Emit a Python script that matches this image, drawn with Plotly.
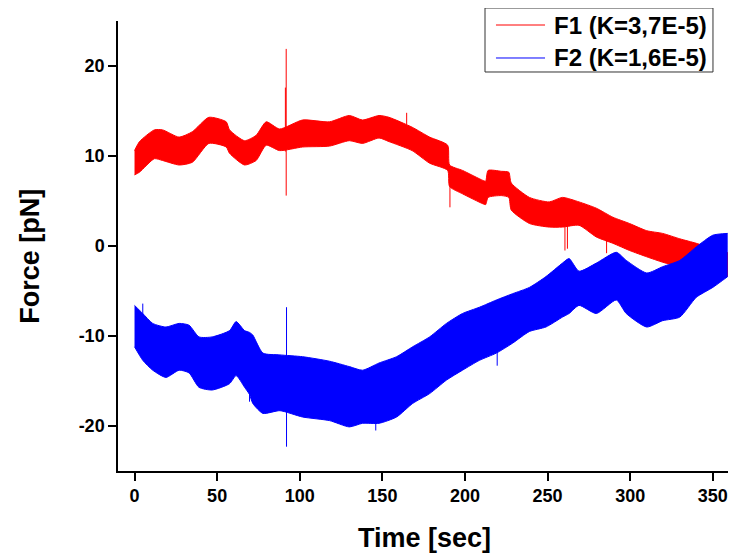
import plotly.graph_objects as go

# ---------------- data ----------------
# F1 (red) noisy band: envelope of the trace
f1_t = [0, 3, 12, 17, 27, 35, 45, 55.5, 57.5, 66.6, 73.6, 79.7, 87.8, 101.7, 118,
        130, 138, 148, 154, 168, 178.6, 189.5, 190.7, 198.5, 210.7, 212.5, 214, 222,
        226.5, 228, 239, 251, 259, 269, 279.5, 289.5, 299.6, 310, 319.6, 330, 340,
        350, 360]
f1_hi = [10.6, 11.6, 12.9, 12.9, 12.1, 12.7, 14.3, 13.8, 12.9, 11.7, 12.3, 13.8,
         13.0, 14.0, 13.8, 14.5, 14.0, 14.5, 14.3, 13.2, 12.1, 11.2, 9.0, 8.4, 7.3,
         7.2, 8.4, 8.3, 8.2, 7.0, 5.4, 4.9, 5.4, 4.9, 4.2, 3.2, 2.5, 1.7, 1.4, 0.8,
         0.3, -0.3, -0.8]
f1_lo = [7.9, 8.2, 9.7, 9.5, 9.0, 9.3, 11.4, 11.0, 10.3, 9.0, 9.5, 11.2, 10.6, 11.0,
         11.1, 11.7, 11.4, 12.0, 11.6, 10.6, 9.2, 8.4, 6.6, 5.8, 4.7, 4.6, 5.4, 5.6,
         5.4, 4.0, 2.5, 2.1, 2.1, 2.3, 1.0, 0.3, -0.5, -1.2, -1.8, -2.3, -2.5, -3.0,
         -3.4]

# F2 (blue) noisy band: envelope of the trace
f2_t = [0, 5, 11, 19, 27, 33, 39, 47, 57.5, 61.5, 66.6, 69.6, 71.6, 77.7, 88, 101.7,
        118, 130, 138, 148, 158.6, 168.3, 178.6, 188.8, 198.5, 208.8, 219, 228.8,
        239, 249, 259, 263, 269, 279.5, 291.6, 297.6, 310, 319.6, 330, 340, 350, 359]
f2_hi = [-6.6, -7.5, -8.6, -9.0, -8.6, -8.8, -10.1, -10.1, -9.4, -8.4, -9.4, -9.6,
         -9.9, -11.9, -12.1, -12.3, -12.8, -13.4, -13.8, -13.0, -12.3, -11.2, -10.1,
         -8.6, -7.5, -6.8, -6.0, -5.3, -4.6, -3.4, -1.9, -1.4, -2.8, -1.9, -0.7,
         -1.6, -3.0, -2.3, -1.6, -0.1, 1.2, 1.4]
f2_lo = [-11.2, -12.7, -13.8, -14.6, -13.8, -14.1, -15.7, -16.0, -15.3, -14.4,
         -15.7, -16.5, -17.5, -18.6, -18.3, -19.0, -19.4, -20.1, -19.7, -19.7, -19.0,
         -17.5, -16.4, -14.9, -13.8, -12.7, -11.9, -10.8, -9.5, -9.0, -7.9, -7.5,
         -6.6, -7.5, -6.0, -7.5, -9.0, -8.3, -7.9, -5.7, -4.6, -3.4]

# isolated spikes (time, low value, high value)
f1_spk_t = [91.3, 91.8, 164.7, 190.9, 260.5, 262.0, 285.7]
f1_spk_lo = [10.5, 5.6, 13.5, 4.3, -0.5, -0.3, -0.8]
f1_spk_hi = [17.6, 21.9, 14.8, 7.0, 2.5, 2.5, 1.5]

f2_spk_t = [5.0, 69.6, 92.0, 146.0, 219.5]
f2_spk_lo = [-11.0, -17.3, -22.3, -20.5, -13.3]
f2_spk_hi = [-6.4, -12.0, -6.8, -18.0, -11.0]

series_names = ["F1 (K=3,7E-5)", "F2 (K=1,6E-5)"]
x_ticks = [0, 50, 100, 150, 200, 250, 300, 350]
y_ticks = [-20, -10, 0, 10, 20]
y_tick_text = ["-20", "-10", "0", "10", "20"]

RED = "#ff0000"
BLUE = "#0000ff"
COLORS = [RED, BLUE]
FONT = "Liberation Sans, Arial, sans-serif"

fig = go.Figure()


def add_band(t, lo, hi, color, spk_t, spk_lo, spk_hi, name):
    edge = dict(color=color, width=1, shape="spline", smoothing=0.6)
    fig.add_trace(go.Scatter(x=t, y=lo, mode="lines", line=edge,
                             showlegend=False, hoverinfo="skip", name=name))
    fig.add_trace(go.Scatter(x=t, y=hi, mode="lines", line=edge,
                             fill="tonexty", fillcolor=color, showlegend=False,
                             hoverinfo="skip", name=name))
    xs, ys = [], []
    for st, sl, sh in zip(spk_t, spk_lo, spk_hi):
        xs += [st, st, None]
        ys += [sl, sh, None]
    fig.add_trace(go.Scatter(x=xs, y=ys, mode="lines", line=dict(color=color, width=1),
                             showlegend=False, hoverinfo="skip", name=name))


add_band(f1_t, f1_lo, f1_hi, RED, f1_spk_t, f1_spk_lo, f1_spk_hi, series_names[0])
add_band(f2_t, f2_lo, f2_hi, BLUE, f2_spk_t, f2_spk_lo, f2_spk_hi, series_names[1])

# ---- legend drawn in paper coordinates (box, line samples, labels) ----
shapes = [dict(type="rect", xref="paper", yref="paper",
               x0=0.5987, x1=0.9706, y0=0.8867, y1=1.0289,
               line=dict(color="#333333", width=1), fillcolor="white", layer="above")]
annotations = []
row_y = [0.9911, 0.9178]
for name, color, ry in zip(series_names, COLORS, row_y):
    shapes.append(dict(type="line", xref="paper", yref="paper",
                       x0=0.6166, x1=0.6966, y0=ry, y1=ry,
                       line=dict(color=color, width=1), layer="above"))
    annotations.append(dict(text=name, xref="paper", yref="paper", x=0.7080, y=ry,
                            xanchor="left", yanchor="middle", showarrow=False,
                            font=dict(family=FONT, size=24, weight=700)))

annotations += [
    dict(text="Time [sec]", xref="paper", yref="paper", x=0.5, y=-0.149,
         xanchor="center", yanchor="middle", showarrow=False,
         font=dict(family=FONT, size=27, weight=700)),
    dict(text="Force [pN]", xref="paper", yref="paper", x=-0.143, y=0.477,
         xanchor="center", yanchor="middle", showarrow=False, textangle=-90,
         font=dict(family=FONT, size=27, weight=700)),
]

# the page body has an 8 px margin, so the figure is 8 px smaller than the window
fig.update_layout(
    width=728, height=548,
    margin=dict(l=110, r=5, t=13, b=85),
    paper_bgcolor="white", plot_bgcolor="white",
    font=dict(family=FONT, color="black"),
    showlegend=False,
    xaxis=dict(range=[-10, 361], tickvals=x_ticks, showline=True, linecolor="black",
               linewidth=1.5, ticks="outside", ticklen=8, tickwidth=1.5,
               tickcolor="black", showgrid=False, zeroline=False, mirror=False,
               tickfont=dict(family=FONT, size=18, weight=700)),
    yaxis=dict(range=[-25, 25], tickvals=y_ticks, ticktext=y_tick_text,
               showline=True, linecolor="black", linewidth=1.5, ticks="outside",
               ticklen=8, tickwidth=1.5, tickcolor="black", showgrid=False,
               zeroline=False, mirror=False,
               tickfont=dict(family=FONT, size=18, weight=700)),
    shapes=shapes,
    annotations=annotations,
)

fig.write_html("out.html")
